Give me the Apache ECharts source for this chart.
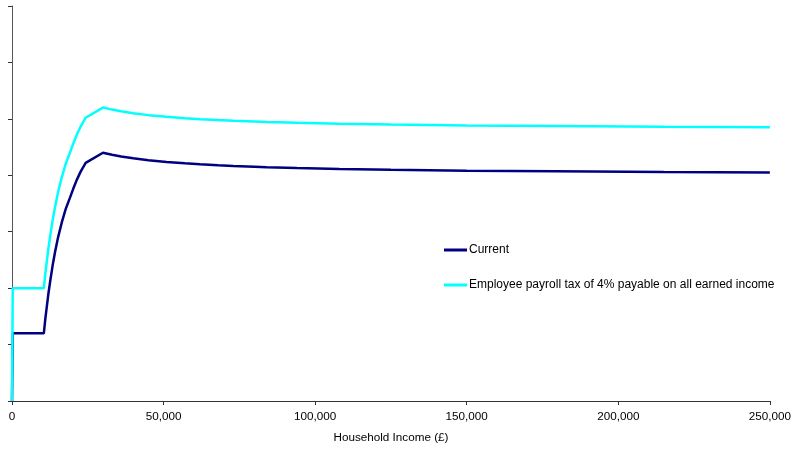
<!DOCTYPE html>
<html>
<head>
<meta charset="utf-8">
<script src="https://cdn.jsdelivr.net/npm/echarts@6/dist/echarts.min.js"></script>
<style>
html,body{margin:0;padding:0;background:#fff;}
#chart{width:794px;height:450px;}
</style>
</head>
<body>
<div id="chart"></div>
<script>
// Household income (£)
var incomes = [0, 250, 10500, 11000, 11500, 12000, 12700, 13400, 14200, 15200, 16400, 17700, 19100, 20200, 21300, 22600, 24300,
  30000, 33000, 36000, 40000, 45000, 51000, 57000, 62000, 68000, 73000, 80000, 84000, 94000, 108000, 125000, 150000, 179000, 215000, 250000];
// Current system (% of income)
var currentVals = [0, 6.0, 6.0, 7.3, 8.4, 9.5, 10.8, 12.0, 13.2, 14.5, 15.8, 17.0, 18.0, 18.8, 19.55, 20.3, 21.1,
  22.0, 21.82, 21.67, 21.5, 21.33, 21.18, 21.06, 20.97, 20.89, 20.83, 20.76, 20.72, 20.65, 20.56, 20.49, 20.41, 20.36, 20.29, 20.25];
// Employee payroll tax of 4% payable on all earned income (% of income)
var payrollVals = [0, 10.0, 10.0, 11.3, 12.4, 13.5, 14.8, 16.0, 17.2, 18.5, 19.8, 21.0, 22.0, 22.8, 23.55, 24.3, 25.1,
  26.0, 25.82, 25.67, 25.5, 25.33, 25.18, 25.06, 24.97, 24.89, 24.83, 24.76, 24.72, 24.65, 24.56, 24.49, 24.41, 24.36, 24.29, 24.25];
var seriesNames = ['Current', 'Employee payroll tax of 4% payable on all earned income'];

function pairs(xs, ys){ return xs.map(function(x,i){ return [x, ys[i]]; }); }

var chart = echarts.init(document.getElementById('chart'), null, {renderer:'canvas'});
var font = 'Liberation Sans, Arial, sans-serif';
chart.setOption({
  animation: false,
  backgroundColor: '#ffffff',
  grid: {left: 12, right: 24, top: 6, bottom: 49, containLabel: false},
  legend: {
    orient: 'vertical',
    left: 444,
    top: 244,
    padding: 0,
    itemGap: 23,
    itemWidth: 23,
    itemHeight: 3,
    icon: 'rect',
    textStyle: {fontFamily: font, fontSize: 12, color: '#000', padding: [0,0,0,-3]},
    data: seriesNames
  },
  xAxis: {
    type: 'value',
    min: 0, max: 250000, interval: 50000,
    name: 'Household Income (£)',
    nameLocation: 'middle',
    nameGap: 31,
    nameTextStyle: {fontFamily: font, fontSize: 11.7, color: '#000'},
    axisLine: {lineStyle: {color: '#333', width: 1}},
    axisTick: {show: true, length: 4, lineStyle: {color: '#333'}},
    axisLabel: {fontFamily: font, fontSize: 11.7, color: '#000', margin: 10,
      formatter: function(v){ return v.toLocaleString('en-GB'); }},
    splitLine: {show: false}
  },
  yAxis: {
    type: 'value',
    min: 0, max: 35, interval: 5,
    axisLine: {show: true, lineStyle: {color: '#555', width: 1}},
    axisTick: {show: true, length: 4, lineStyle: {color: '#333'}},
    axisLabel: {show: false},
    splitLine: {show: false}
  },
  series: [
    {
      name: seriesNames[0], type: 'line', showSymbol: false, symbol: 'none',
      data: pairs(incomes, currentVals),
      lineStyle: {color: '#000080', width: 2.5},
      itemStyle: {color: '#000080'}
    },
    {
      name: seriesNames[1], type: 'line', showSymbol: false, symbol: 'none',
      data: pairs(incomes, payrollVals),
      lineStyle: {color: '#00FFFF', width: 2.5},
      itemStyle: {color: '#00FFFF'}
    }
  ]
});
</script>
</body>
</html>
